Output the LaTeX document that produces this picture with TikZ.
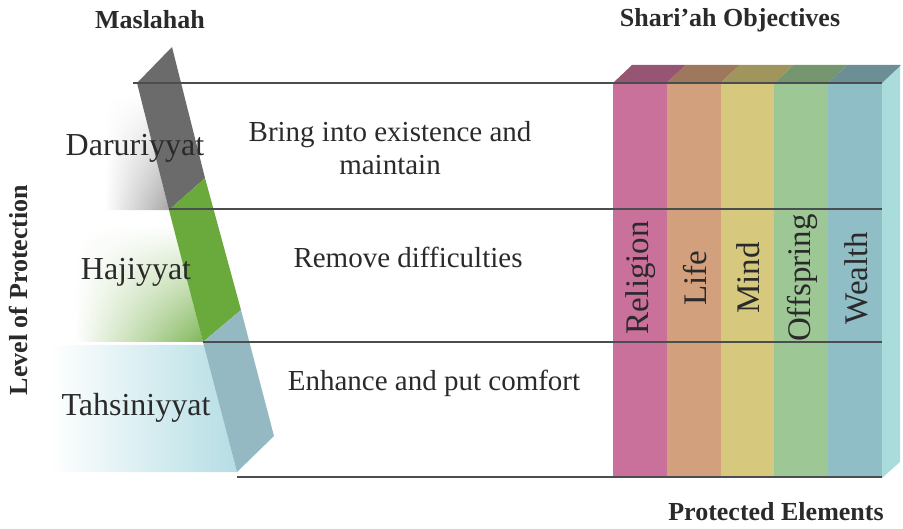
\documentclass[tikz,border=0pt]{standalone}
\usepackage{fontspec}
\setmainfont{Liberation Serif}
\usetikzlibrary{fadings}

\definecolor{barGray}{HTML}{6B6B6B}
\definecolor{barGreen}{HTML}{6AAA3C}
\definecolor{barBlue}{HTML}{95B9C3}
\definecolor{shadeBlue}{HTML}{A8D8E0}
\definecolor{religCol}{HTML}{C9719B}
\definecolor{lifeCol}{HTML}{D2A07C}
\definecolor{mindCol}{HTML}{D6C87C}
\definecolor{offsCol}{HTML}{9DC896}
\definecolor{wealthCol}{HTML}{8FBEC6}
\definecolor{sideCol}{HTML}{AADCDC}
\definecolor{ruleCol}{HTML}{4A4E50}
\definecolor{inkCol}{HTML}{2A2A2A}

\begin{document}
\begin{tikzpicture}[x=1pt, y=-1pt,
    level/.style={font=\fontsize{32}{36}\selectfont, text=inkCol},
    aim/.style={font=\fontsize{29}{33}\selectfont, text=inkCol, align=center},
    title/.style={font=\bfseries\fontsize{26}{29}\selectfont, text=inkCol},
    elem/.style={font=\fontsize{33}{36}\selectfont, text=inkCol, rotate=90},
    rulebar/.style={line width=2.6pt, draw=ruleCol}]
  \useasboundingbox (0,0) rectangle (903,529);

  % soft shadows behind the level names
  \shade[left color=white, right color=barGray!60, path fading=north]
    (105,95) -- (140,95) -- (169,210) -- (105,210) -- cycle;
  \shade[left color=white, right color=barGreen!85, path fading=north]
    (75,225) -- (173,225) -- (203,342) -- (75,342) -- cycle;
  \shade[left color=white, right color=shadeBlue!85]
    (50,345) -- (204,345) -- (237,472) -- (50,472) -- cycle;

  % slanted bar
  \fill[barGray] (137,83) -- (172,47) -- (205,178) -- (169,210) -- cycle;
  \fill[barGreen] (169,210) -- (205,178) -- (241,310) -- (203,342) -- cycle;
  \fill[barBlue] (203,342) -- (241,310) -- (274,436) -- (237,472) -- cycle;

  % objectives box
  \fill[sideCol] (882,83) -- (900,65) -- (900,462) -- (882,478) -- cycle;
  \foreach \name/\col [count=\i from 0] in {Religion/religCol, Life/lifeCol,
      Mind/mindCol, Offspring/offsCol, Wealth/wealthCol} {
    \fill[\col] (613+53.8*\i,83) rectangle (613+53.8*\i+53.8,477);
    \fill[\col!75!black] (613+53.8*\i,83) -- (632+53.8*\i,65)
      -- (632+53.8*\i+53.8,65) -- (613+53.8*\i+53.8,83) -- cycle;
    \node[elem] (\name) at (641+53.8*\i,278) {\name};
  }

  % level rules
  \draw[rulebar] (133,83) -- (882,83);
  \draw[rulebar] (169,209) -- (882,209);
  \draw[rulebar] (203,342) -- (882,342);
  \draw[rulebar] (237,477) -- (882,477);

  \node[title] (maslahah) at (150,20) {Maslahah};
  \node[title] (shariah) at (730,20) {Shari’ah Objectives};
  \node[title] (protected) at (776,512) {Protected Elements};
  \node[title, rotate=90] (levelprot) at (18,290) {Level of Protection};

  \node[level] (daruriyyat) at (135,148) {Daruriyyat};
  \node[level] (hajiyyat) at (136,272) {Hajiyyat};
  \node[level] (tahsiniyyat) at (136,408) {Tahsiniyyat};

  \node[aim] (bring) at (390,148) {Bring into existence and\\maintain};
  \node[aim] (remove) at (408,257) {Remove difficulties};
  \node[aim] (enhance) at (434,383) {Enhance and put comfort};
\end{tikzpicture}
\end{document}
